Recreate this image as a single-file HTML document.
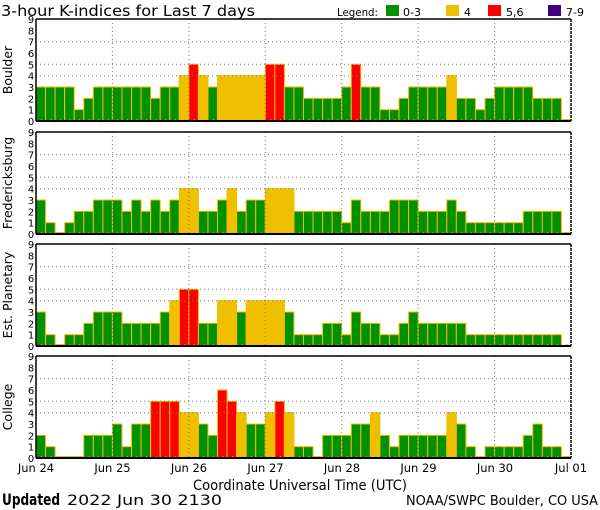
<!DOCTYPE html>
<html><head><meta charset="utf-8"><style>
html,body{margin:0;padding:0;background:#fff;width:600px;height:510px;overflow:hidden}
svg{display:block}
text{font-family:"DejaVu Sans","Liberation Sans",sans-serif;fill:#000}
</style></head><body>
<svg id="s" width="600" height="510" viewBox="0 0 600 510" xmlns="http://www.w3.org/2000/svg">
<g id="bars"></g>
<text x="1" y="16" font-size="15.5" textLength="254" lengthAdjust="spacingAndGlyphs">3-hour K-indices for Last 7 days</text>
<text x="337" y="16" font-size="11" textLength="41" lengthAdjust="spacingAndGlyphs">Legend:</text>
<rect x="386" y="5" width="13" height="11" fill="#009000"/><text x="403" y="16" font-size="11">0-3</text>
<rect x="446" y="5" width="13" height="11" fill="#f0c000"/><text x="464" y="16" font-size="11">4</text>
<rect x="488" y="5" width="13" height="11" fill="#ff0000"/><text x="506" y="16" font-size="11">5,6</text>
<rect x="548" y="5" width="13" height="11" fill="#400080"/><text x="566" y="16" font-size="11">7-9</text>
<text transform="translate(12,70) rotate(-90)" text-anchor="middle" font-size="12.5">Boulder</text>
<text transform="translate(12,183) rotate(-90)" text-anchor="middle" font-size="12.5">Fredericksburg</text>
<text transform="translate(12,295) rotate(-90)" text-anchor="middle" font-size="12.5">Est. Planetary</text>
<text transform="translate(12,407) rotate(-90)" text-anchor="middle" font-size="12.5">College</text>
<g font-size="11.5" text-anchor="middle">
<text x="36" y="472">Jun 24</text><text x="112.5" y="472">Jun 25</text><text x="189" y="472">Jun 26</text><text x="265.5" y="472">Jun 27</text><text x="342" y="472">Jun 28</text><text x="418.5" y="472">Jun 29</text><text x="495" y="472">Jun 30</text><text x="571" y="472">Jul 01</text>
</g>
<text x="193" y="490" font-size="14" textLength="214" lengthAdjust="spacingAndGlyphs">Coordinate Universal Time (UTC)</text>
<text x="2" y="505" font-family="'Liberation Serif',serif" font-weight="bold" font-size="16" textLength="58" lengthAdjust="spacingAndGlyphs">Updated</text>
<text x="67" y="505" font-size="14" textLength="155" lengthAdjust="spacingAndGlyphs">2022 Jun 30 2130</text>
<text x="406" y="505" font-size="13" textLength="192" lengthAdjust="spacingAndGlyphs">NOAA/SWPC Boulder, CO USA</text>
</svg>
<script>
var D=[
[3,3,3,3,1,2,3,3, 3,3,3,3,2,3,3,4, 5,4,3,4,4,4,4,4, 5,5,3,3,2,2,2,2, 3,5,3,3,1,1,2,3, 3,3,3,4,2,2,1,2, 3,3,3,3,2,2,2,0],
[3,1,0,1,2,2,3,3, 3,2,3,2,3,2,3,4, 4,2,2,3,4,2,3,3, 4,4,4,2,2,2,2,2, 1,3,2,2,2,3,3,3, 2,2,2,3,2,1,1,1, 1,1,1,2,2,2,2,0],
[3,1,0,1,1,2,3,3, 3,2,2,2,2,3,4,5, 5,2,2,4,4,3,4,4, 4,4,3,1,1,1,2,2, 1,3,2,2,1,1,2,3, 2,2,2,2,2,1,1,1, 1,1,1,1,1,1,1,-1],
[2,1,0,0,0,2,2,2, 3,1,3,3,5,5,5,4, 4,3,2,6,5,4,3,3, 4,5,4,1,1,0,2,2, 2,3,3,4,2,1,2,2, 2,2,2,4,3,1,0,1, 1,1,1,2,3,1,1,0]];
var tops=[19,132,244,356],H=102,X0=36,X1=571,bw=(X1-X0)/56,u=H/9,s='';
function col(v){return v<=3?'#009000':v==4?'#f0c000':v<=6?'#ff0000':'#400080';}
for(var p=0;p<4;p++){var t=tops[p],z=t+H;
 for(var i=0;i<56;i++){var v=D[p][i],x=X0+i*bw;
  if(v>=0){var h=v==0?1.5:v*u;s+='<rect x="'+x.toFixed(2)+'" y="'+(z-h).toFixed(2)+'" width="'+bw.toFixed(2)+'" height="'+h.toFixed(2)+'" fill="'+col(v)+'" stroke="#f0c000" stroke-width="1"/>';}
  s+='<rect x="'+(x+5).toFixed(2)+'" y="'+(z-2)+'" width="1" height="2" fill="#f0a000"/>';}
 [4,5,7].forEach(function(k){var y=z-k*u;s+='<line x1="'+X0+'" x2="'+X1+'" y1="'+y.toFixed(1)+'" y2="'+y.toFixed(1)+'" stroke="#777" stroke-dasharray="1,3"/>';});
 for(var d=1;d<7;d++){var x=X0+d*8*bw;s+='<line x1="'+x.toFixed(1)+'" x2="'+x.toFixed(1)+'" y1="'+t+'" y2="'+z+'" stroke="#777" stroke-dasharray="1,3"/>';}
 s+='<line x1="'+X0+'" x2="'+X1+'" y1="'+t+'" y2="'+t+'" stroke="#000" stroke-width="1.5"/>';
 s+='<line x1="'+X0+'" x2="'+X1+'" y1="'+z+'" y2="'+z+'" stroke="#000" stroke-width="2"/>';
 s+='<line x1="'+X0+'" x2="'+X0+'" y1="'+t+'" y2="'+z+'" stroke="#000" stroke-width="1.5"/>';
 s+='<line x1="'+X1+'" x2="'+X1+'" y1="'+t+'" y2="'+z+'" stroke="#000" stroke-width="1.5" stroke-dasharray="3,1"/>';
 for(var k=0;k<=9;k++){s+='<text x="31" y="'+(z-k*u+4).toFixed(1)+'" font-size="10" text-anchor="middle">'+k+'</text>';}
}
document.getElementById('bars').innerHTML=s;
</script>
</body></html>
